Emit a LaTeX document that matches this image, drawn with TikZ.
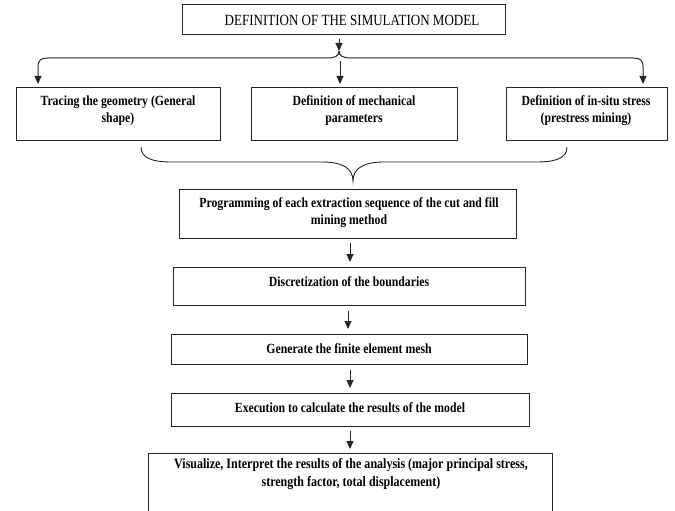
\documentclass[tikz,border=0pt]{standalone}
\usepackage{fontspec}
\setmainfont{Liberation Serif}[FakeStretch=0.84]
\usetikzlibrary{arrows.meta,calc}
\begin{document}
\begin{tikzpicture}[x=1pt,y=-1pt,
  box/.style={draw=black!85,line width=1pt,inner sep=0pt,outer sep=0pt,anchor=north west},
  lbl/.style={align=center,inner sep=0pt,font=\fontsize{14}{17}\selectfont\bfseries},
  conn/.style={draw=black!85,line width=1pt},
  arr/.style={conn,-{Triangle[width=7pt,length=8pt]}}]
\useasboundingbox (0,0) rectangle (675,511);
\clip (0,0) rectangle (675,511);
\fill[white] (0,0) rectangle (675,511);
% boxes
\node[box,minimum width=323pt,minimum height=30pt] (top) at (182,5) {};
\node[box,minimum width=204pt,minimum height=52pt] (left) at (16,88) {};
\node[box,minimum width=206pt,minimum height=52pt] (mid) at (251,88) {};
\node[box,minimum width=161pt,minimum height=52pt] (right) at (506,88) {};
\node[box,minimum width=337pt,minimum height=49pt] (prog) at (179,189) {};
\node[box,minimum width=352pt,minimum height=38pt] (disc) at (173,267) {};
\node[box,minimum width=356pt,minimum height=30pt] (gen) at (171,334) {};
\node[box,minimum width=358pt,minimum height=33pt] (exe) at (171,393) {};
\node[box,minimum width=404pt,minimum height=80pt] (vis) at (148,453) {};
% texts
\node[lbl,font=\fontsize{15.5}{17}\selectfont] (toptext) at (352,20) {DEFINITION OF THE SIMULATION MODEL};
\node[lbl] (lefttext) at (118,111) {Tracing the geometry (General\\shape)};
\node[lbl] (midtext) at (354,111) {Definition of mechanical\\parameters};
\node[lbl] (righttext) at (586,111) {Definition of in-situ stress\\(prestress mining)};
\node[lbl] (progtext) at (349,213) {Programming of each extraction sequence of the cut and fill\\mining method};
\node[lbl] (disctext) at (349,282) {Discretization of the boundaries};
\node[lbl] (gentext) at (349,349) {Generate the finite element mesh};
\node[lbl] (exetext) at (350,408) {Execution to calculate the results of the model};
\node[lbl,font=\fontsize{14.3}{17.5}\selectfont\bfseries] (vistext) at (351,474) {Visualize, Interpret the results of the analysis (major principal stress,\\strength factor, total displacement)};
% upper brace with arrows
\coordinate (cusp) at (339,51);
\draw[arr] (cusp |- top.south) ++(0,4) -- (cusp);
\draw[arr] (cusp) .. controls (339,56) and (335,58) .. (327,58) -- (48,58)
  .. controls (41,58) and (38,60) .. (38,67) -- ($(left.north west)+(22,-4)$);
\draw[arr] (cusp) .. controls (339,56) and (343,58) .. (351,58) -- (633,58)
  .. controls (640,58) and (643,60) .. (643,67) -- ($(right.north west)+(137,-4)$);
\draw[arr] ($(mid.north west)+(89,-27)$) -- ($(mid.north west)+(89,-4)$);
% lower brace
\coordinate (b1) at (141,147);
\coordinate (b2) at (567,147);
\coordinate (btip) at (353,181);
\draw[conn,line width=0.9pt] (b1) .. controls (141,158) and (152,162) .. (172,162) -- (322,162)
  .. controls (342,162) and (353,168) .. (btip)
  .. controls (353,168) and (364,162) .. (384,162) -- (536,162)
  .. controls (556,162) and (567,158) .. (b2);
% vertical arrows
\draw[arr] ($(prog.south west)+(171,5)$) -- ($(disc.north west)+(177,-5)$);
\draw[arr] ($(disc.south west)+(175,6)$) -- ($(gen.north west)+(177,-5)$);
\draw[arr] ($(gen.south west)+(179,6)$) -- ($(exe.north west)+(179,-5)$);
\draw[arr] ($(exe.south west)+(179,5)$) -- ($(vis.north west)+(202,-4)$);
\end{tikzpicture}
\end{document}
